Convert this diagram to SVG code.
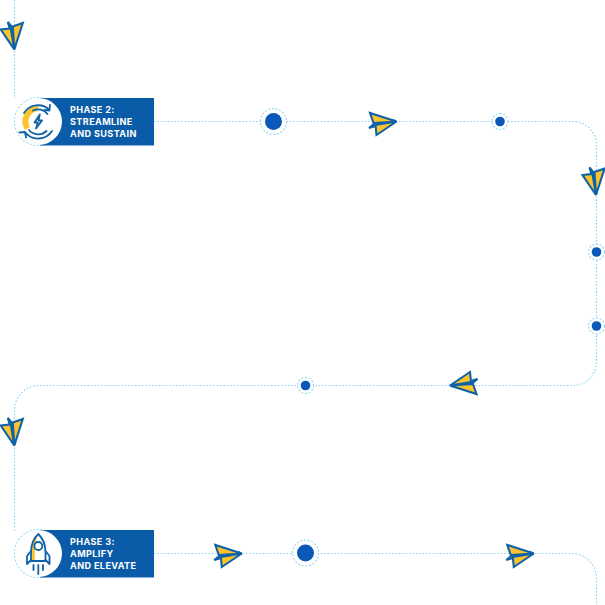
<svg xmlns="http://www.w3.org/2000/svg" xmlns:xlink="http://www.w3.org/1999/xlink" width="605" height="605" viewBox="0 0 605 605">
<style>
.path{fill:none;stroke:#8fd6f5;stroke-width:1.200;stroke-dasharray:1.600 1.800}
.ring{fill:#fff;stroke:#8fd6f5;stroke-width:1.100;stroke-dasharray:2 1.700}
.dot{fill:#0a58b8}
.box{fill:#0a5ca8}
.label{font-family:"Inter","Liberation Sans",sans-serif;font-weight:700;font-size:9.100px;letter-spacing:.38px;fill:#fff}
.pl{fill:#fdc32d;stroke:#0f62a8;stroke-width:2.100;stroke-linejoin:miter}
.ic{fill:none;stroke:#0f62a8;stroke-width:1.800;stroke-linejoin:round;stroke-linecap:round}
.yl{fill:#fdc32d;stroke:none}
</style>
<defs>
<g id="plane">
<path class="pl" d="M-2-1L-27.500 6.500L-22.500 2.500Z"/>
<path class="pl" d="M0 0L-20 13.500L-21 3.500Z"/>
<path class="pl" d="M0 0L-26.500-8.500L-23 1.500Z"/>
</g>
</defs>
<rect width="605" height="605" fill="#fff"/>
<g id="connectors">
<path class="path" d="M14.500 0V99"/>
<path class="path" d="M154 121.500H573A23.500 23.500 0 0 1 596.500 145V362A23.500 23.500 0 0 1 573 385.500H39A24.500 24.500 0 0 0 14.500 410V532"/>
<path class="path" d="M154 553.500H572A24.500 24.500 0 0 1 596.500 578V605"/>
</g>
<g id="plane-1"><use xlink:href="#plane" href="#plane" transform="translate(14.300 49.500) rotate(90)"/></g>
<g id="plane-2"><use xlink:href="#plane" href="#plane" transform="translate(396.500 121.500)"/></g>
<g id="plane-3"><use xlink:href="#plane" href="#plane" transform="translate(596 195) rotate(90)"/></g>
<g id="plane-4"><use xlink:href="#plane" href="#plane" transform="translate(450 385.500) rotate(180)"/></g>
<g id="plane-5"><use xlink:href="#plane" href="#plane" transform="translate(14.300 445.500) rotate(90)"/></g>
<g id="plane-6"><use xlink:href="#plane" href="#plane" transform="translate(241.800 553.500)"/></g>
<g id="plane-7"><use xlink:href="#plane" href="#plane" transform="translate(533.800 553.500)"/></g>
<g id="dot-1"><circle class="ring" cx="273.500" cy="121.500" r="13"/><circle class="dot" cx="273.500" cy="121.500" r="8.500"/></g>
<g id="dot-2"><circle class="ring" cx="500" cy="121.500" r="8"/><circle class="dot" cx="500" cy="121.500" r="4.800"/></g>
<g id="dot-3"><circle class="ring" cx="596.500" cy="252" r="8"/><circle class="dot" cx="596.500" cy="252" r="4.800"/></g>
<g id="dot-4"><circle class="ring" cx="596.500" cy="326" r="8"/><circle class="dot" cx="596.500" cy="326" r="4.800"/></g>
<g id="dot-5"><circle class="ring" cx="305.500" cy="385.500" r="8"/><circle class="dot" cx="305.500" cy="385.500" r="4.800"/></g>
<g id="dot-6"><circle class="ring" cx="305.500" cy="553" r="13"/><circle class="dot" cx="305.500" cy="553" r="8.500"/></g>
<g id="phase-2">
<circle class="ring" cx="38.500" cy="121.500" r="24"/>
<rect class="box" x="40" y="98" width="114" height="47.500"/>
<circle cx="38.500" cy="121.500" r="23.500" fill="#fff"/>
<path class="yl" d="M38 106A15.500 15.500 0 0 0 25 130L30 127A10.500 10.500 0 0 1 38 111Z"/>
<path class="ic" d="M49.500 110A16.500 16.500 0 0 0 24 113M25 132A16.500 16.500 0 0 0 52 131M44.500 110L49.500 110.500L50 105M26 137.500L25 132L19.500 132.500"/>
<path class="ic" stroke-width="1.200" d="M47.500 114A12 12 0 0 0 33 110.500M29 130A12 12 0 0 0 46.500 131"/>
<path class="ic" stroke-width="1.400" d="M39.800 114.500L34.500 122.500H37.800L36 128.500L42 120.500H38.500Z"/>
<text class="label" x="70" y="112.700">PHASE 2:</text>
<text class="label" x="70" y="124.700">STREAMLINE</text>
<text class="label" x="70" y="136.700">AND SUSTAIN</text>
</g>
<g id="phase-3">
<circle class="ring" cx="38.500" cy="553.500" r="24"/>
<rect class="box" x="40" y="530" width="114" height="47.500"/>
<circle cx="38.500" cy="553.500" r="23.500" fill="#fff"/>
<path class="yl" d="M38 535C33 540 31.500 546 31.500 552V560H35C34.500 550 35 542 38 535Z"/>
<path class="ic" d="M38.300 534C33 539 31 546 31 552V561H45.500V552C45.500 546 43.500 539 38.300 534Z"/>
<circle class="ic" cx="38.300" cy="546" r="4"/>
<path class="ic" d="M31 551L27 556V564L31 560M45.500 551L49.500 556V564L45.500 560M38.300 565V574M33.500 565V570M43 565V570"/>
<text class="label" x="70" y="544.700">PHASE 3:</text>
<text class="label" x="70" y="556.700">AMPLIFY</text>
<text class="label" x="70" y="568.700">AND ELEVATE</text>
</g>
</svg>
